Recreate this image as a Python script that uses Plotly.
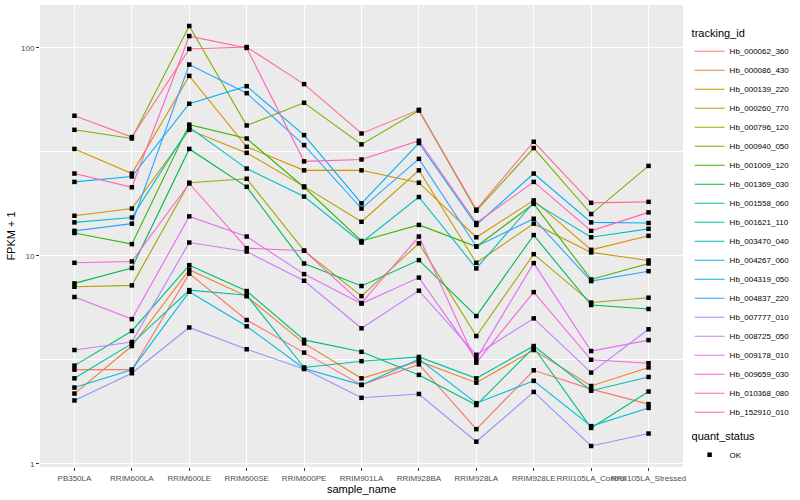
import plotly.graph_objects as go
import numpy as np

categories = ["PB350LA", "RRIM600LA", "RRIM600LE", "RRIM600SE", "RRIM600PE", "RRIM901LA",
              "RRIM928BA", "RRIM928LA", "RRIM928LE", "RRII105LA_Control", "RRII105LA_Stressed"]

tracking_ids = ["Hb_000062_360", "Hb_000086_430", "Hb_000139_220", "Hb_000260_770", "Hb_000796_120",
                "Hb_000940_050", "Hb_001009_120", "Hb_001369_030", "Hb_001558_060", "Hb_001621_110",
                "Hb_003470_040", "Hb_004267_060", "Hb_004319_050", "Hb_004837_220", "Hb_007777_010",
                "Hb_008725_050", "Hb_009178_010", "Hb_009659_030", "Hb_010368_080", "Hb_152910_010"]

colors = ["#F8766D", "#EA8331", "#D89000", "#C09B00", "#A3A500", "#7CAE00", "#39B600", "#00BB4E",
          "#00BF7D", "#00C1A3", "#00BFC4", "#00BAE0", "#00B0F6", "#35A2FF", "#9590FF", "#C77CFF",
          "#E76BF3", "#FA62DB", "#FF62BC", "#FF6C91"]

# FPKM + 1 values, one list per tracking_id, in category order
Hb_000062_360 = [2.84, 2.84, 8.22, 4.92, 3.43, 2.40, 3.01, 1.47, 2.82, 2.29, 1.94]
Hb_000086_430 = [2.18, 3.69, 8.59, 6.40, 3.80, 2.58, 3.12, 2.46, 3.53, 2.37, 2.91]
Hb_000139_220 = [32.7, 24.9, 73.4, 33.5, 25.8, 25.8, 22.5, 12.3, 18.5, 10.7, 12.5]
Hb_000260_770 = [15.6, 16.9, 40.4, 31.3, 21.6, 14.6, 25.8, 9.27, 14.3, 10.4, 9.51]
Hb_000796_120 = [7.11, 7.22, 22.5, 23.5, 10.6, 6.41, 11.5, 4.12, 10.2, 5.97, 6.30]
Hb_000940_050 = [40.4, 36.7, 127.5, 42.4, 54.5, 34.4, 50.0, 16.5, 33.0, 15.9, 27.1]
Hb_001009_120 = [12.9, 11.4, 42.8, 36.7, 21.4, 11.8, 14.1, 11.1, 17.8, 7.71, 9.20]
Hb_001369_030 = [7.38, 8.75, 32.7, 21.5, 9.20, 7.17, 9.55, 5.14, 12.6, 5.81, 5.56]
Hb_001558_060 = [2.97, 4.36, 9.03, 6.78, 3.95, 3.46, 2.68, 1.92, 3.63, 1.49, 2.23]
Hb_001621_110 = [2.58, 3.79, 6.85, 6.47, 2.91, 3.12, 3.27, 2.58, 3.69, 2.25, 2.62]
Hb_003470_040 = [14.5, 15.3, 41.5, 26.3, 19.3, 11.6, 19.2, 8.71, 18.1, 12.3, 13.5]
Hb_004267_060 = [2.33, 2.84, 6.73, 4.59, 2.88, 2.40, 3.19, 1.96, 2.51, 1.52, 1.86]
Hb_004319_050 = [22.7, 24.1, 53.9, 65.5, 38.1, 17.9, 34.9, 14.1, 24.9, 14.5, 14.4]
Hb_004837_220 = [13.2, 14.3, 83.2, 60.6, 34.1, 16.9, 29.3, 11.1, 15.1, 7.57, 8.45]
Hb_007777_010 = [2.02, 2.73, 4.53, 3.56, 2.86, 2.08, 2.17, 1.28, 2.22, 1.22, 1.40]
Hb_008725_050 = [3.53, 3.86, 11.6, 10.5, 7.60, 4.49, 6.81, 3.35, 5.01, 2.75, 4.44]
Hb_009178_010 = [6.35, 4.97, 15.5, 12.4, 8.18, 5.90, 7.87, 3.20, 9.24, 3.49, 3.94]
Hb_009659_030 = [9.27, 9.41, 22.3, 10.9, 10.6, 5.94, 12.4, 3.07, 6.70, 3.17, 3.05]
Hb_010368_080 = [24.9, 21.4, 114.0, 100.0, 28.5, 29.1, 35.8, 14.4, 22.7, 13.2, 16.2]
Hb_152910_010 = [47.2, 37.3, 98.9, 101.0, 67.0, 38.8, 50.4, 16.7, 35.4, 18.0, 18.2]

series = [Hb_000062_360, Hb_000086_430, Hb_000139_220, Hb_000260_770, Hb_000796_120,
          Hb_000940_050, Hb_001009_120, Hb_001369_030, Hb_001558_060, Hb_001621_110,
          Hb_003470_040, Hb_004267_060, Hb_004319_050, Hb_004837_220, Hb_007777_010,
          Hb_008725_050, Hb_009178_010, Hb_009659_030, Hb_010368_080, Hb_152910_010]

FONT = "Liberation Sans, Arial, sans-serif"

fig = go.Figure()
for name, col, vals in zip(tracking_ids, colors, series):
    fig.add_trace(go.Scatter(x=categories, y=vals, mode="lines", name=name,
                             line=dict(color=col, width=1.1), legend="legend"))

all_x = [c for _ in series for c in categories]
all_y = [v for vals in series for v in vals]
fig.add_trace(go.Scatter(x=all_x, y=all_y, mode="markers", name="OK",
                         marker=dict(color="black", symbol="square", size=4.5),
                         legend="legend2"))

logs = np.log10(all_y)
span = logs.max() - logs.min()
yrange = [logs.min() - 0.05 * span, logs.max() + 0.05 * span]

fig.update_layout(
    width=800, height=500,
    margin=dict(l=40, r=117, t=5, b=33, autoexpand=False),
    paper_bgcolor="white", plot_bgcolor="#EBEBEB",
    font=dict(family=FONT, size=8, color="#4D4D4D"),
    xaxis=dict(type="category", categoryorder="array", categoryarray=categories,
               range=[-0.6, len(categories) - 0.4],
               showgrid=True, gridcolor="white", gridwidth=1.2,
               ticks="outside", ticklen=3, tickcolor="#333333", tickwidth=1,
               tickfont=dict(size=8, color="#4D4D4D"), tickangle=0,
               title=dict(text="sample_name", font=dict(size=11, color="black"), standoff=0),
               zeroline=False, showline=False, automargin=False),
    yaxis=dict(type="log", range=yrange,
               tickvals=[1, 10, 100], ticktext=["1", "10", "100"],
               showgrid=True, gridcolor="white", gridwidth=1.2,
               minor=dict(tickvals=[10 ** 0.5, 10 ** 1.5], showgrid=True, gridcolor="white",
                          gridwidth=0.6, ticklen=0),
               ticks="outside", ticklen=3, tickcolor="#333333", tickwidth=1,
               tickfont=dict(size=8, color="#4D4D4D"),
               title=dict(text="FPKM + 1", font=dict(size=11, color="black"), standoff=3),
               zeroline=False, showline=False, automargin=False),
    legend=dict(title=dict(text="tracking_id", font=dict(size=11, color="black")),
                xref="container", yref="container",
                x=0.862, y=0.955, xanchor="left", yanchor="top",
                font=dict(size=8, color="black"), bgcolor="rgba(0,0,0,0)",
                tracegroupgap=0, itemwidth=30, maxheight=440),
    legend2=dict(title=dict(text="quant_status", font=dict(size=11, color="black")),
                 xref="container", yref="container",
                 x=0.862, y=0.148, xanchor="left", yanchor="top",
                 font=dict(size=8, color="black"), bgcolor="rgba(0,0,0,0)", itemwidth=30,
                 maxheight=60),
    showlegend=True,
)

fig.write_html("out.html", config={"displayModeBar": False},
               post_script="document.body.style.margin='0';")
